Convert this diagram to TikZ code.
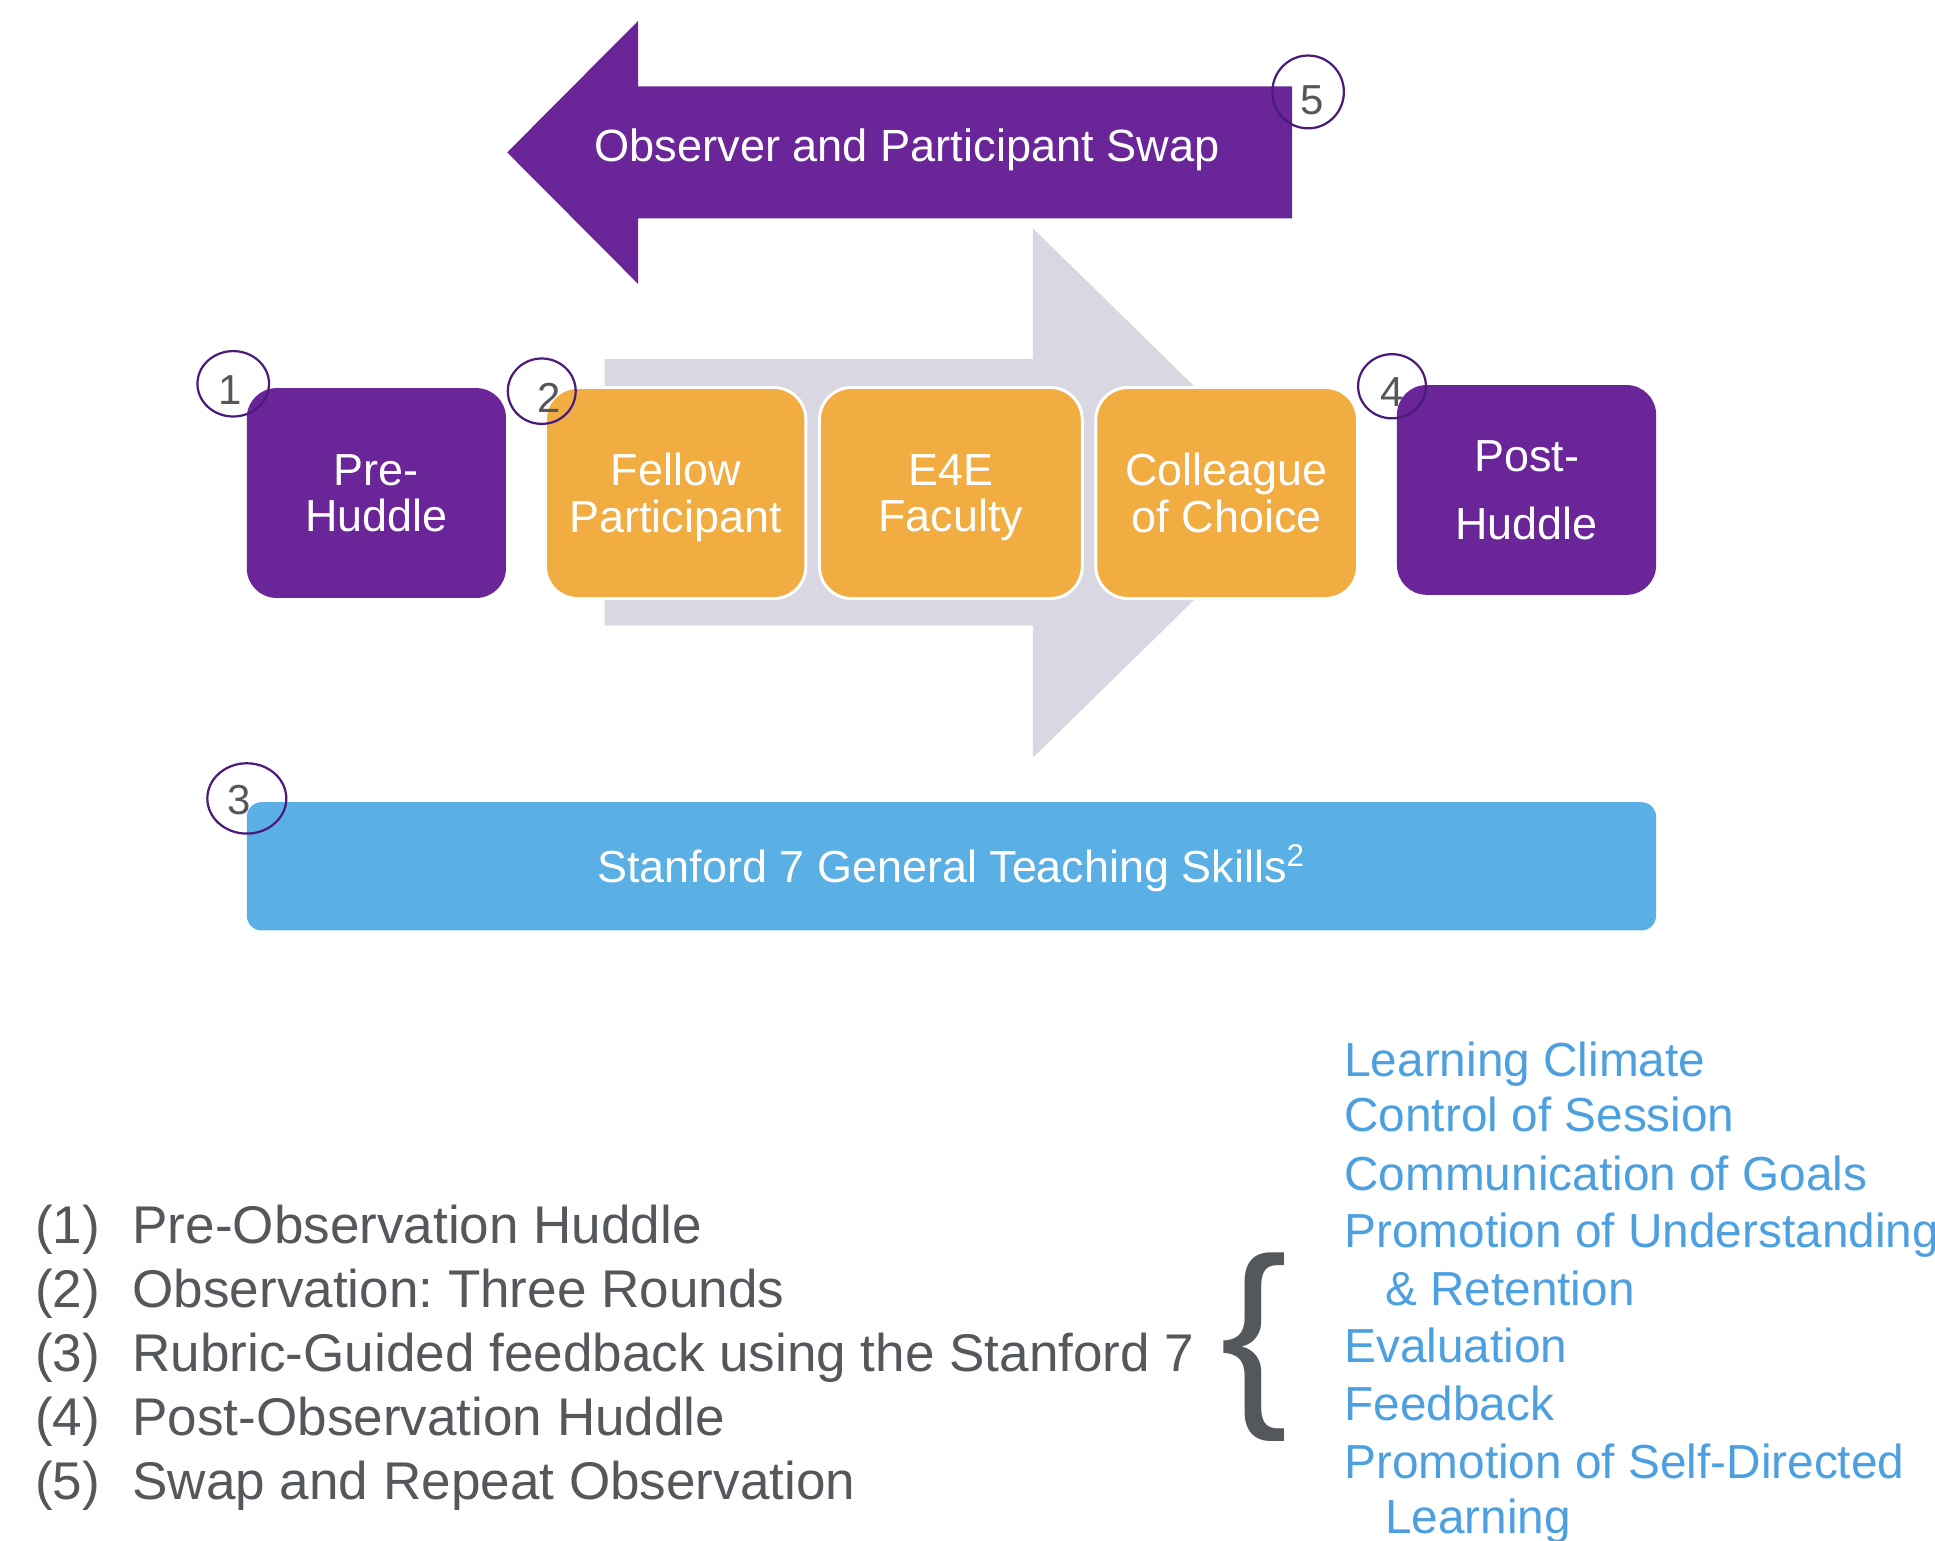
\documentclass[tikz,border=0pt]{standalone}
\usepackage{fontspec}
\setmainfont{Liberation Sans}
\usetikzlibrary{shapes.geometric}
\frenchspacing
\definecolor{swappurple}{HTML}{6A2698}
\definecolor{ringpurple}{HTML}{4A1B7A}
\definecolor{roleorange}{HTML}{F1AC42}
\definecolor{skillblue}{HTML}{5AAFE4}
\definecolor{listblue}{HTML}{4CA0E0}
\definecolor{flowgray}{HTML}{D9D7E2}
\definecolor{textgray}{HTML}{54575B}
\begin{document}
\begin{tikzpicture}[x=0.5pt,y=0.5pt,
  boxtext/.style={font=\fontsize{18.2}{19}\selectfont, text=white, align=center, text depth=0pt, inner sep=0pt},
  purplebox/.style={boxtext, rectangle, rounded corners=12pt, fill=swappurple, minimum width=105pt, minimum height=85pt},
  orangebox/.style={boxtext, rectangle, rounded corners=13pt, fill=roleorange, draw=white, line width=1.2pt, minimum width=105.5pt, minimum height=85.5pt},
  numring/.style={ellipse, draw=ringpurple, line width=0.9pt, inner sep=0pt},
  numdigit/.style={font=\fontsize{17}{17}\selectfont, text=textgray, inner sep=0pt},
  stepnum/.style={anchor=base west, font=\fontsize{21.5}{21.5}\selectfont, text=textgray, inner sep=0pt},
  skillitem/.style={anchor=base west, font=\fontsize{19.35}{19.35}\selectfont, text=listblue, inner sep=0pt}]
\clip (0,0) rectangle (1568,-1248);
\fill[white] (0,0) rectangle (1568,-1248);

% process arrow behind the observer boxes
\fill[flowgray] (490,-291) -- (837,-291) -- (837,-185) -- (1056,-399.5)
  -- (837,-614) -- (837,-507) -- (490,-507) -- cycle;

% swap arrow
\fill[swappurple] (1047,-70) -- (517,-70) -- (517,-17) -- (411,-123.5)
  -- (517,-230) -- (517,-177) -- (1047,-177) -- cycle;
\node[font=\fontsize{18.3}{19}\selectfont, text=white, inner sep=0pt, anchor=base] (swap) at (735,-131) {Observer and Participant Swap};

% huddles and observers
\node[purplebox] (pre) at (305,-399.5) {Pre-\\Huddle};
\node[orangebox] (fellow) at (547.5,-399.5) {Fellow\\Participant};
\node[orangebox, minimum width=106.5pt] (faculty) at (770.5,-399.5) {E4E\\Faculty};
\node[orangebox, minimum width=106pt] (colleague) at (994,-399.5) {Colleague\\of Choice};
\node[purplebox, font=\fontsize{18.2}{27.5}\selectfont] (post) at (1237,-397) {Post-\\Huddle};

% feedback framework bar
\node[rectangle, rounded corners=6pt, fill=skillblue, minimum width=571pt, minimum height=52pt, inner sep=0pt] (bar) at (771,-702) {};
\node[font=\fontsize{18.2}{19}\selectfont, text=white, inner sep=0pt, anchor=base] (bartext) at (771,-715) {Stanford 7 General Teaching Skills\textsuperscript{2}};

% step markers
\node[numring, minimum width=29pt, minimum height=26.5pt] (r1) at (189,-311) {};
\node[numdigit] (d1) at (186.5,-316) {1};
\node[numring, minimum width=27.5pt, minimum height=26.5pt] (r2) at (439,-317) {};
\node[numdigit] (d2) at (445,-322.5) {2};
\node[numring, minimum width=32pt, minimum height=28.5pt] (r3) at (200,-647) {};
\node[numdigit] (d3) at (194,-648) {3};
\node[numring, minimum width=27.5pt, minimum height=26pt] (r4) at (1128,-313) {};
\node[numdigit] (d4) at (1128.5,-317.5) {4};
\node[numring, minimum width=29pt, minimum height=29.5pt] (r5) at (1060,-74.5) {};
\node[numdigit] (d5) at (1063,-81) {5};

% step legend
\node[stepnum] (n1) at (28,-1007.4) {(1)};
\node[stepnum] (t1) at (107,-1007.4) {Pre-Observation Huddle};
\node[stepnum] (n2) at (28,-1059.4) {(2)};
\node[stepnum] (t2) at (107,-1059.4) {Observation: Three Rounds};
\node[stepnum] (n3) at (28,-1111.4) {(3)};
\node[stepnum] (t3) at (107,-1111.4) {Rubric-Guided feedback using the Stanford 7};
\node[stepnum] (n4) at (28,-1163.4) {(4)};
\node[stepnum] (t4) at (107,-1163.4) {Post-Observation Huddle};
\node[stepnum] (n5) at (28,-1215.4) {(5)};
\node[stepnum] (t5) at (107,-1215.4) {Swap and Repeat Observation};

% brace
\node[font=\fontsize{82}{82}\selectfont, text=textgray, inner sep=0pt] (brace) at (1016,-1092) {\{};

% Stanford 7 skills
\node[skillitem] (s1) at (1089,-872) {Learning Climate};
\node[skillitem] (s2) at (1089,-917) {Control of Session};
\node[skillitem] (s3) at (1089,-965) {Communication of Goals};
\node[skillitem] (s4) at (1089,-1011) {Promotion of Understanding};
\node[skillitem] (s4b) at (1122,-1058) {\& Retention};
\node[skillitem] (s5) at (1089,-1104) {Evaluation};
\node[skillitem] (s6) at (1089,-1151) {Feedback};
\node[skillitem] (s7) at (1089,-1198) {Promotion of Self-Directed};
\node[skillitem] (s7b) at (1122,-1243) {Learning};
\end{tikzpicture}
\end{document}
